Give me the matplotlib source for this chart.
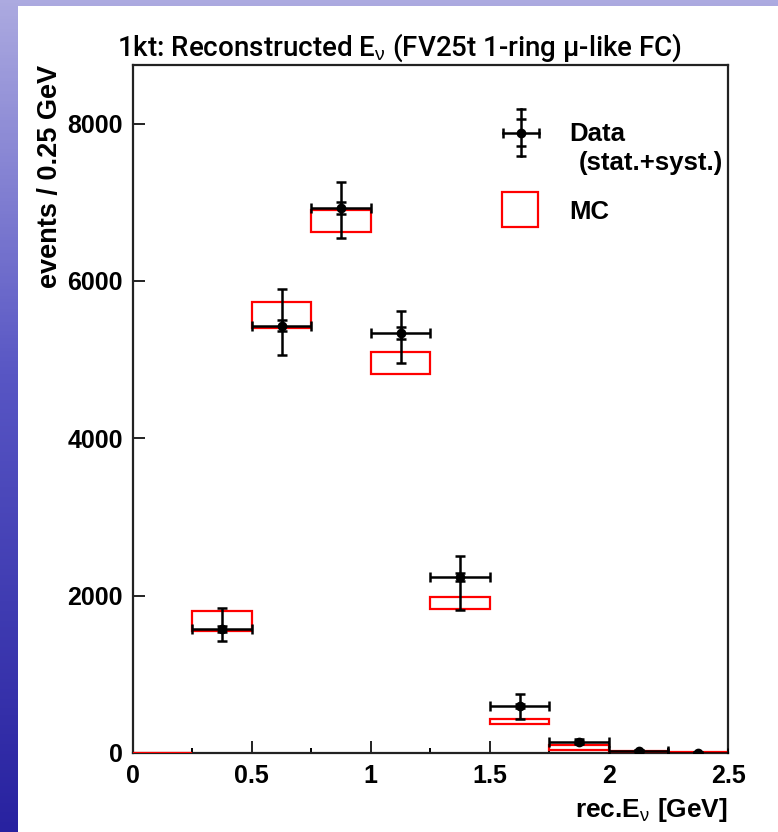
import numpy as np
import matplotlib
matplotlib.use("Agg")
import matplotlib.pyplot as plt
from matplotlib.patches import Rectangle
from matplotlib.lines import Line2D
from matplotlib.ticker import MultipleLocator
from matplotlib import font_manager
from matplotlib.font_manager import FontProperties

# ---------------- data ----------------
bin_low = [0.0, 0.25, 0.5, 0.75, 1.0, 1.25, 1.5, 1.75, 2.0, 2.25]
bin_width = 0.25
data_counts = [0, 1577, 5433, 6926, 5336, 2238, 601, 144, 29, 5]
data_err_up = [0, 270, 463, 325, 275, 271, 149, 35, 12, 4]
data_err_dn = [0, 149, 376, 382, 381, 420, 169, 35, 12, 4]
data_stat = [0, 40, 74, 77, 73, 47, 25, 12, 5, 2]
mc_low = [0, 1551, 5400, 6620, 4821, 1827, 369, 38, 0, 0]
mc_high = [0, 1809, 5738, 6904, 5095, 1987, 436, 102, 25, 8]
xtick_vals = [0, 0.5, 1, 1.5, 2, 2.5]
xtick_labels = ["0", "0.5", "1", "1.5", "2", "2.5"]
ytick_vals = [0, 2000, 4000, 6000, 8000]
ytick_labels = ["0", "2000", "4000", "6000", "8000"]

# ---------------- fonts ----------------
plt.rcParams["font.family"] = ["Liberation Sans", "DejaVu Sans"]
plt.rcParams["mathtext.fontset"] = "custom"
plt.rcParams["mathtext.rm"] = "Liberation Sans"
plt.rcParams["mathtext.it"] = "Liberation Sans:italic"
plt.rcParams["mathtext.bf"] = "Liberation Sans:bold"

title_family, title_weight, title_size = "Liberation Sans", "bold", 18.8
try:
    fpath = font_manager.findfont(FontProperties(family="Roboto", weight=500), fallback_to_default=False)
    if "medium" in fpath.lower():
        title_family, title_weight, title_size = "Roboto", 500, 20.0
except Exception:
    pass

W, H = 778, 832
fig = plt.figure(figsize=(W / 100, H / 100), dpi=100)

# ---------------- slide background ----------------
bg = fig.add_axes([0, 0, 1, 1], zorder=-10)
t = np.linspace(0, 1, 256)[:, None]
top_c = np.array([172, 170, 224]) / 255
mid_c = np.array([88, 86, 196]) / 255
bot_c = np.array([40, 34, 160]) / 255
grad = np.where(t < 0.45, top_c + (mid_c - top_c) * (t / 0.45),
                mid_c + (bot_c - mid_c) * ((t - 0.45) / 0.55))
grad = np.repeat(grad[:, None, :], 2, axis=1).reshape(256, 2, 3)
bg.imshow(grad, extent=[0, W, 0, H], aspect="auto", origin="upper")
bg.add_patch(Rectangle((18, 0), W - 18, H - 6, facecolor="white", edgecolor="none"))
bg.set_xlim(0, W)
bg.set_ylim(0, H)
bg.axis("off")

# ---------------- main axes ----------------
ax_l, ax_r, ax_t, ax_b = 132.7, 728.0, 64.5, 753.0
ax = fig.add_axes([ax_l / W, (H - ax_b) / H, (ax_r - ax_l) / W, (ax_b - ax_t) / H])
ax.set_facecolor("white")

centers = np.array(bin_low) + bin_width / 2
lo = np.array(mc_low)
hi = np.array(mc_high)
ax.bar(centers, hi - lo, bottom=lo, width=bin_width, fill=False,
       edgecolor="#ff0000", linewidth=1.6, zorder=3)

d = np.array(data_counts)
m = d > 0
ax.errorbar(centers[m], d[m], xerr=bin_width / 2,
            yerr=[np.array(data_err_dn)[m], np.array(data_err_up)[m]],
            fmt="o", color="black", ms=6, elinewidth=1.8, capsize=3.6,
            capthick=1.8, zorder=5)
ax.errorbar(centers[m], d[m], yerr=np.array(data_stat)[m], fmt="none",
            ecolor="black", elinewidth=1.8, capsize=3.6, capthick=1.8, zorder=5)

ax.set_xlim(0, 2.5)
ax.set_ylim(0, 8750)
ax.set_xticks(xtick_vals)
ax.set_xticklabels(xtick_labels, fontweight="bold")
ax.set_yticks(ytick_vals)
ax.set_yticklabels(ytick_labels, fontweight="bold")
ax.xaxis.set_minor_locator(MultipleLocator(0.25))
ax.tick_params(axis="both", which="major", direction="in", length=8.3,
               width=1.4, labelsize=18, color="#222222")
ax.tick_params(axis="x", which="major", pad=8)
ax.tick_params(axis="y", which="major", pad=7)
ax.tick_params(axis="x", which="minor", direction="in", length=3.3, width=1.4)
for s in ax.spines.values():
    s.set_linewidth(1.6)
    s.set_color("#222222")

# ---------------- legend (drawn manually) ----------------
lx, ly = 0.6518, 0.9010
hx, hy = 0.0302, 0.0346
sy = 0.0193
ax.add_line(Line2D([lx, lx], [ly - hy, ly + hy], color="black", lw=1.8, transform=ax.transAxes))
ax.add_line(Line2D([lx - hx, lx + hx], [ly, ly], color="black", lw=1.8, transform=ax.transAxes))
ax.add_line(Line2D([lx, lx, lx, lx], [ly - hy, ly + hy, ly - sy, ly + sy], ls="none",
                   marker="_", ms=7.2, mew=1.8, color="black", transform=ax.transAxes))
ax.add_line(Line2D([lx - hx, lx + hx], [ly, ly], ls="none", marker="|", ms=7.2, mew=1.8,
                   color="black", transform=ax.transAxes))
ax.add_line(Line2D([lx], [ly], ls="none", marker="o", ms=6, color="black", transform=ax.transAxes))
ax.text(0.733, 0.899, "Data", transform=ax.transAxes, fontsize=18.5,
        fontweight="bold", ha="left", va="center")
ax.text(0.7498, 0.8566, "(stat.+syst.)", transform=ax.transAxes, fontsize=18.5,
        fontweight="bold", ha="left", va="center")
ax.add_patch(Rectangle((0.6211, 0.7644), 0.0605, 0.0509, transform=ax.transAxes,
                       fill=False, edgecolor="#ff0000", lw=1.6))
ax.text(0.733, 0.7862, "MC", transform=ax.transAxes, fontsize=18.5,
        fontweight="bold", ha="left", va="center")

# ---------------- titles / labels ----------------
fig.text(400 / W, 1 - 55.6 / H, "1kt: Reconstructed E$_{\\mathrm{\\nu}}$ (FV25t 1-ring μ-like FC)",
         family=[title_family, "Liberation Sans", "DejaVu Sans"], fontsize=title_size,
         fontweight=title_weight, ha="center", va="baseline")
fig.text(50 / W, 1 - 65 / H, "events / 0.25 GeV", rotation=90, fontsize=19.5,
         fontweight="bold", ha="center", va="top")
fig.text(728 / W, 1 - 816.7 / H, "rec.E$_{\\mathrm{\\nu}}$ [GeV]", fontsize=19,
         fontweight="bold", ha="right", va="baseline")

fig.savefig("out.png", dpi=100)
